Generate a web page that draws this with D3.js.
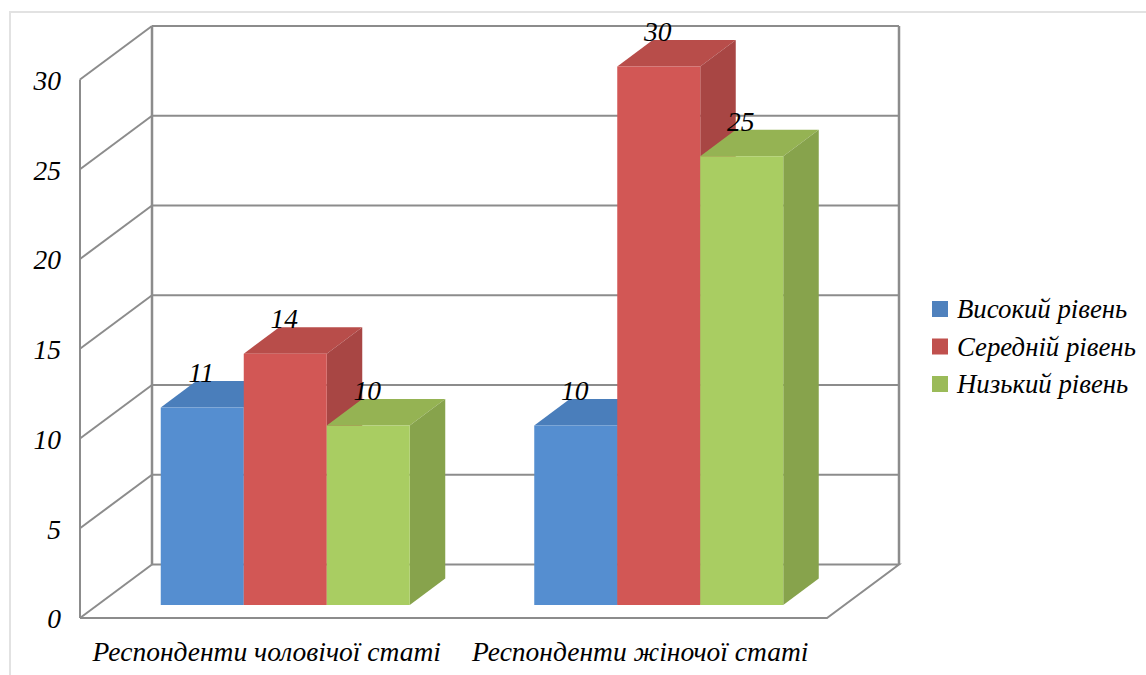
<!DOCTYPE html>
<html lang="uk">
<head>
<meta charset="utf-8">
<title>Рівні за статтю респондентів</title>
<script src="https://cdn.jsdelivr.net/npm/d3@7/dist/d3.min.js"></script>
<style>
  html, body { margin: 0; padding: 0; background: #fff; overflow: hidden; }
  svg { display: block; }
  text { font-family: "Liberation Serif", serif; font-style: italic; fill: #000; }
</style>
</head>
<body>
<svg id="chart" width="1146" height="675"></svg>
<script>
// Chart data
const categories = ["Респонденти чоловічої статі", "Респонденти жіночої статі"];
const seriesNames = ["Високий рівень", "Середній рівень", "Низький рівень"];
const highLevel = [11, 10];
const midLevel = [14, 30];
const lowLevel = [10, 25];
const yTicks = [0, 5, 10, 15, 20, 25, 30];

// Series palette: legend swatch plus the three shaded faces of a bar
const seriesColors = [
  { key: "#4f81bd", front: "#558ed0", top: "#4a7ebb", side: "#44729f" },
  { key: "#c0504d", front: "#d25755", top: "#b84d4a", side: "#a84644" },
  { key: "#9bbb59", front: "#a9cd62", top: "#95b353", side: "#87a34c" }
];
const seriesValues = [highLevel, midLevel, lowLevel];

const labelSize = 27.5;
const legendSize = 26.8;
const svg = d3.select("#chart");

// Frame around the chart area
svg.append("path")
  .attr("d", "M10,675V12H1146")
  .attr("fill", "none").attr("stroke", "#e2e2e2").attr("stroke-width", 2);

// Front plane of the 3D box, with the depth of the walls and of the bars
const plotLeft = 80, plotRight = 827, plotBottom = 618, plotTop = 79.5;
const wallDx = 72, wallDy = -53.5;
const barInsetX = 18.5, barInsetY = -13;
const barDx = 35.5, barDy = -26.5;

const x0 = d3.scaleBand().domain(categories).range([plotLeft, plotRight]);
const x1 = d3.scaleBand().domain(seriesNames).range([-124.5, 124.5]);
const y = d3.scaleLinear().domain([0, 30]).range([plotBottom, plotTop]);

// Walls and gridlines
const wallColor = "#8c8c8c";
const walls = svg.append("g").attr("fill", "none").attr("stroke", wallColor).attr("stroke-width", 2);

walls.selectAll("line.grid").data(yTicks.filter(t => t > 0)).join("line")
  .attr("class", "grid")
  .attr("x1", plotLeft + wallDx).attr("x2", plotRight + wallDx)
  .attr("y1", d => y(d) + wallDy).attr("y2", d => y(d) + wallDy);

walls.selectAll("line.diag").data(yTicks).join("line")
  .attr("class", "diag")
  .attr("x1", plotLeft).attr("x2", plotLeft + wallDx)
  .attr("y1", d => y(d)).attr("y2", d => y(d) + wallDy);

walls.append("line").attr("x1", plotLeft).attr("x2", plotLeft)
  .attr("y1", y(30)).attr("y2", y(0));
walls.append("line").attr("x1", plotLeft + wallDx).attr("x2", plotLeft + wallDx)
  .attr("y1", y(30) + wallDy).attr("y2", y(0) + wallDy).attr("stroke-width", 2.5);
walls.append("line").attr("x1", plotRight + wallDx).attr("x2", plotRight + wallDx)
  .attr("y1", y(30) + wallDy).attr("y2", y(0) + wallDy).attr("stroke-width", 2.5);
walls.append("path")
  .attr("d", d3.line()([
    [plotLeft, y(0)], [plotRight, y(0)],
    [plotRight + wallDx, y(0) + wallDy],
    [plotLeft + wallDx, y(0) + wallDy]
  ]));

// Bars, each built from its top, side and front faces
const bars = categories.flatMap((c, ci) =>
  seriesNames.map((s, si) => ({ c, s, si, value: seriesValues[si][ci] }))
);
const barX = d => x0(d.c) + x0.bandwidth() / 2 + x1(d.s) + barInsetX;
const barTop = d => y(d.value) + barInsetY;
const barBase = y(0) + barInsetY;
const barW = x1.bandwidth();
const poly = d3.line();

const barG = svg.append("g").selectAll("g").data(bars).join("g");

barG.append("path")
  .attr("fill", d => seriesColors[d.si].top)
  .attr("d", d => {
    const a = barX(d), t = barTop(d);
    return poly([[a, t], [a + barW, t], [a + barW + barDx, t + barDy], [a + barDx, t + barDy]]) + "Z";
  });
barG.append("path")
  .attr("fill", d => seriesColors[d.si].side)
  .attr("d", d => {
    const b = barX(d) + barW, t = barTop(d);
    return poly([[b, t], [b + barDx, t + barDy], [b + barDx, barBase + barDy], [b, barBase]]) + "Z";
  });
barG.append("rect")
  .attr("fill", d => seriesColors[d.si].front)
  .attr("x", barX).attr("y", barTop)
  .attr("width", barW).attr("height", d => barBase - barTop(d));

// Value labels sit on the rear edge of each bar top
svg.append("g").selectAll("text").data(bars).join("text")
  .attr("text-anchor", "middle")
  .attr("font-size", labelSize)
  .attr("x", d => barX(d) + barW / 2 - 1)
  .attr("y", d => barTop(d) + barDy + 1)
  .text(d => d.value);

// Value axis labels
const yAxis = svg.append("g")
  .attr("transform", `translate(${plotLeft},0)`)
  .call(d3.axisLeft(y).tickValues(yTicks).tickSize(0).tickPadding(19));
yAxis.select(".domain").remove();
yAxis.attr("font-family", null).attr("font-size", labelSize);
yAxis.selectAll("text").attr("dy", "0.36em");

// Category axis labels
const xAxis = svg.append("g")
  .attr("transform", `translate(0,${plotBottom})`)
  .call(d3.axisBottom(x0).tickSize(0).tickPadding(0));
xAxis.select(".domain").remove();
xAxis.attr("font-family", null).attr("font-size", labelSize);
xAxis.selectAll("text").attr("y", 0).attr("dy", 43);

// Legend
const legendY = d3.scalePoint().domain(seriesNames).range([309, 384]);
const legend = svg.append("g").selectAll("g").data(seriesNames).join("g")
  .attr("transform", d => `translate(932,${legendY(d)})`);
legend.append("rect")
  .attr("y", -8).attr("width", 16).attr("height", 16)
  .attr("fill", (d, i) => seriesColors[i].key);
legend.append("text")
  .attr("x", 25).attr("y", 9).attr("font-size", legendSize)
  .text(d => d);
</script>
</body>
</html>
